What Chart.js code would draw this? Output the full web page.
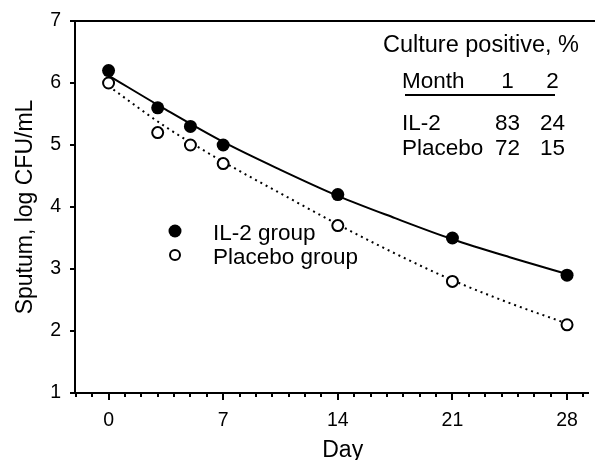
<!DOCTYPE html>
<html>
<head>
<meta charset="utf-8">
<script src="https://cdn.jsdelivr.net/npm/chart.js@4/dist/chart.umd.min.js"></script>
<style>
  body { margin: 0; background: #fff; }
  #wrap { width: 595px; height: 460px; }
</style>
</head>
<body>
<div id="wrap"><canvas id="myChart" width="595" height="460"></canvas></div>
<script>
// measured points
var days = [0, 3, 5, 7, 14, 21, 28];
var il2Values = [6.2, 5.6, 5.3, 5.0, 4.2, 3.5, 2.9];
var placeboValues = [6.0, 5.2, 5.0, 4.7, 3.7, 2.8, 2.1];

// fitted curves
var fitDays = [0, 3.5, 7, 10.5, 14, 17.5, 21, 24.5, 28];
var il2Fit = [6.12, 5.57, 5.05, 4.6, 4.18, 3.82, 3.48, 3.19, 2.92];
var placeboFit = [5.95, 5.29, 4.73, 4.22, 3.72, 3.25, 2.82, 2.45, 2.12];

// axis ticks
var dayTicks = [0, 7, 14, 21, 28];
var yTicks = [1, 2, 3, 4, 5, 6, 7];
var xTitle = 'Day';

// inset table
var tableTitle = 'Culture positive, %';
var months = ['1', '2'];
var groupNames = ['IL-2', 'Placebo'];
var il2Culture = [83, 24];
var placeboCulture = [72, 15];

var legendLabels = ['IL-2 group', 'Placebo group'];

var FONT = '"Liberation Sans", Arial, sans-serif';

function pts(xs, ys) {
    return xs.map(function (x, i) { return { x: x, y: ys[i] }; });
}

var extras = {
    id: 'extras',
    afterDraw: function (chart) {
        var c = chart.ctx;
        var xs = chart.scales.x;
        var area = chart.chartArea;
        c.save();
        c.strokeStyle = '#000';
        c.fillStyle = '#000';

        // top frame line
        c.lineWidth = 2;
        c.beginPath();
        c.moveTo(area.left - 1, area.top);
        c.lineTo(chart.width, area.top);
        c.stroke();

        // minor ticks every day
        for (var d = -2; d <= 29; d++) {
            if (d % 7 === 0) continue;
            var px = Math.round(xs.getPixelForValue(d));
            c.beginPath();
            c.moveTo(px, area.bottom);
            c.lineTo(px, area.bottom + 4);
            c.stroke();
        }

        // x title: the original axis runs on past the cropped right edge,
        // so its title sits right of the visible centre
        c.font = '23px ' + FONT;
        c.textAlign = 'center';
        c.textBaseline = 'alphabetic';
        c.fillText(xTitle, xs.getPixelForValue(14.3), 457);

        // legend
        c.font = '22.5px ' + FONT;
        c.textAlign = 'left';
        c.beginPath();
        c.arc(175, 231, 6.5, 0, Math.PI * 2);
        c.fill();
        c.fillText(legendLabels[0], 213, 240);
        c.lineWidth = 2;
        c.beginPath();
        c.arc(175, 255, 5, 0, Math.PI * 2);
        c.fillStyle = '#fff';
        c.fill();
        c.stroke();
        c.fillStyle = '#000';
        c.fillText(legendLabels[1], 213, 264);

        // table
        c.font = '23.5px ' + FONT;
        c.fillText(tableTitle, 383, 52);
        c.font = '22.5px ' + FONT;
        c.fillText('Month', 402, 88);
        var cols = [507.5, 552.5];
        c.textAlign = 'center';
        months.forEach(function (m, i) { c.fillText(m, cols[i], 88); });
        c.lineWidth = 2;
        c.beginPath();
        c.moveTo(405, 95);
        c.lineTo(555, 95);
        c.stroke();
        var rows = [il2Culture, placeboCulture];
        var rowY = [130, 155];
        groupNames.forEach(function (g, r) {
            c.textAlign = 'left';
            c.fillText(g, 402, rowY[r]);
            c.textAlign = 'center';
            rows[r].forEach(function (v, i) { c.fillText(String(v), cols[i], rowY[r]); });
        });
        c.restore();
    }
};

var ctx = document.getElementById('myChart').getContext('2d');
var myChart = new Chart(ctx, {
    type: 'scatter',
    data: {
        datasets: [{
            label: legendLabels[0],
            data: pts(days, il2Values),
            pointRadius: 6.5,
            pointBackgroundColor: '#000',
            pointBorderColor: '#000',
            pointBorderWidth: 0,
            showLine: false,
            order: 0
        }, {
            label: legendLabels[1],
            data: pts(days, placeboValues),
            pointRadius: 5.5,
            pointBackgroundColor: '#fff',
            pointBorderColor: '#000',
            pointBorderWidth: 2,
            showLine: false,
            order: 0
        }, {
            label: 'IL-2 fit',
            data: pts(fitDays, il2Fit),
            showLine: true,
            pointRadius: 0,
            borderColor: '#000',
            borderWidth: 2,
            cubicInterpolationMode: 'monotone',
            order: 1
        }, {
            label: 'Placebo fit',
            data: pts(fitDays, placeboFit),
            showLine: true,
            pointRadius: 0,
            borderColor: '#000',
            borderWidth: 2,
            borderDash: [2, 4],
            cubicInterpolationMode: 'monotone',
            order: 1
        }]
    },
    options: {
        responsive: false,
        animation: false,
        layout: { padding: { top: 21, right: 0, left: 0, bottom: 0 } },
        plugins: {
            legend: { display: false },
            tooltip: { enabled: false }
        },
        scales: {
            x: {
                type: 'linear',
                min: -2.05,
                max: 29.25,
                afterBuildTicks: function (scale) {
                    scale.ticks = dayTicks.map(function (v) { return { value: v }; });
                },
                afterFit: function (scale) { scale.height = 67; },
                grid: { drawOnChartArea: false, color: '#000', lineWidth: 2, tickLength: 7 },
                border: { display: true, color: '#000', width: 2 },
                ticks: { color: '#000', font: { family: FONT, size: 19.5 }, padding: 9, maxRotation: 0 }
            },
            y: {
                min: 1,
                max: 7,
                afterBuildTicks: function (scale) {
                    scale.ticks = yTicks.map(function (v) { return { value: v }; });
                },
                afterFit: function (scale) { scale.width = 75; },
                grid: { drawOnChartArea: false, color: '#000', lineWidth: 2, tickLength: 5 },
                border: { display: true, color: '#000', width: 2 },
                ticks: { color: '#000', font: { family: FONT, size: 19.5 }, padding: 9 },
                title: { display: true, text: 'Sputum, log CFU/mL', color: '#000', font: { family: FONT, size: 23 }, padding: { top: 12, bottom: 0 } }
            }
        }
    },
    plugins: [extras]
});
</script>
</body>
</html>
